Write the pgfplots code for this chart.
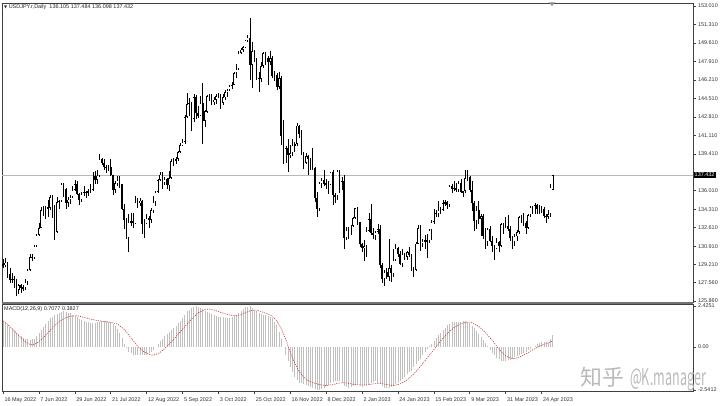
\documentclass[border=0pt]{standalone}
\usepackage{fontspec}
\setmainfont{Liberation Sans}
\newfontfamily\cjk{Noto Sans CJK SC}
\newfontfamily\cjknarrow[FakeStretch=0.55]{Noto Sans CJK SC}
\newfontfamily\dejavu{DejaVu Sans}
\usepackage{pgfplots}
\usepackage{pgfplotstable}
\pgfplotsset{compat=1.18}
\definecolor{sigred}{RGB}{200,60,60}

\pgfplotstableread{
i o h l c m
0 129.20 129.70 128.90 129.15 1.50
1 129.15 129.80 129.00 129.40 1.40
2 129.40 129.45 128.00 128.30 1.30
3 128.30 128.90 127.50 127.80 1.20
4 127.80 128.40 127.50 127.90 1.08
5 127.90 128.20 127.10 127.85 0.97
6 127.85 127.90 126.36 126.85 0.85
7 126.85 127.45 126.55 127.30 0.75
8 127.30 127.40 126.60 127.10 0.65
9 127.10 127.35 126.80 127.10 0.55
10 127.10 127.90 126.90 127.60 0.50
11 127.60 128.80 127.30 128.70 0.45
12 128.70 130.20 128.60 129.90 0.40
13 129.90 130.20 129.50 129.85 0.45
14 129.85 131.00 129.70 130.90 0.50
15 130.90 132.00 130.80 131.90 0.65
16 131.90 133.00 131.80 132.60 0.80
17 132.60 134.50 132.60 134.20 1.00
18 134.20 134.60 133.70 134.35 1.20
19 134.35 134.60 133.40 134.40 1.37
20 134.40 135.20 133.60 134.45 1.53
21 134.45 135.60 134.20 135.40 1.70
22 135.40 135.60 133.50 134.30 1.78
23 134.30 134.70 131.50 132.20 1.87
24 132.20 135.40 132.10 135.00 1.95
25 135.00 135.20 134.30 135.10 2.00
26 135.10 136.70 135.00 136.60 2.05
27 136.60 136.70 135.40 136.20 2.10
28 136.20 136.30 134.30 134.90 2.07
29 134.90 135.40 134.50 135.20 2.03
30 135.20 135.60 134.80 135.40 2.00
31 135.40 136.40 135.30 136.10 1.92
32 136.10 137.00 136.00 136.60 1.83
33 136.60 136.90 135.60 135.70 1.75
34 135.70 135.80 134.70 135.20 1.68
35 135.20 135.90 135.00 135.70 1.62
36 135.70 136.40 135.50 135.90 1.55
37 135.90 136.00 135.30 135.85 1.50
38 135.85 136.20 135.50 136.00 1.45
39 136.00 136.60 135.80 136.10 1.40
40 136.10 137.70 136.00 137.40 1.42
41 137.40 137.80 136.60 137.00 1.43
42 137.00 137.90 136.60 137.40 1.45
43 137.40 139.40 137.30 138.90 1.48
44 138.90 139.00 138.40 138.55 1.52
45 138.55 138.90 137.90 138.20 1.55
46 138.20 138.40 137.60 138.15 1.52
47 138.15 138.40 137.80 138.20 1.48
48 138.20 138.90 137.40 137.45 1.45
49 137.45 137.50 135.60 136.10 1.35
50 136.10 136.90 135.80 136.70 1.25
51 136.70 137.40 136.40 137.00 1.05
52 137.00 137.40 136.30 136.60 0.85
53 136.60 136.65 134.20 134.30 0.52
54 134.30 134.80 132.50 133.30 0.20
55 133.30 133.50 131.60 131.65 -0.05
56 131.65 133.90 130.40 133.15 -0.30
57 133.15 134.00 132.80 133.20 -0.38
58 133.20 134.00 132.60 133.00 -0.45
59 133.00 135.50 132.90 135.00 -0.48
60 135.00 135.30 134.40 134.90 -0.50
61 134.90 135.30 134.60 135.10 -0.50
62 135.10 135.20 132.00 132.90 -0.50
63 132.90 133.40 131.70 133.00 -0.48
64 133.00 133.90 132.90 133.50 -0.45
65 133.50 133.70 132.60 133.30 -0.38
66 133.30 134.40 133.00 134.20 -0.30
67 134.20 135.50 134.00 135.00 -0.15
68 135.00 136.00 134.60 135.90 0.00
69 135.90 137.05 135.80 137.00 0.18
70 137.00 137.70 136.90 137.50 0.35
71 137.50 137.70 136.20 136.80 0.50
72 136.80 137.30 136.50 137.10 0.65
73 137.10 137.20 136.20 136.50 0.78
74 136.50 137.80 136.00 137.20 0.90
75 137.20 138.90 137.10 138.70 1.00
76 138.70 139.00 138.30 138.80 1.10
77 138.80 139.10 138.50 138.95 1.25
78 138.95 139.70 138.70 139.60 1.40
79 139.60 140.40 139.50 140.20 1.55
80 140.20 140.80 140.10 140.50 1.70
81 140.50 143.00 140.30 142.80 1.90
82 142.80 144.99 142.70 144.00 2.10
83 144.00 144.50 142.90 144.10 2.20
84 144.10 144.20 141.50 142.60 2.30
85 142.60 144.90 142.30 144.60 2.35
86 144.60 144.80 142.60 143.20 2.40
87 143.20 143.80 142.70 142.90 2.35
88 142.90 144.70 142.90 144.10 2.30
89 144.10 145.90 140.35 142.40 2.22
90 142.40 143.40 141.90 143.30 2.15
91 143.30 144.80 143.20 144.70 2.08
92 144.70 144.90 144.30 144.80 2.00
93 144.80 144.90 143.90 144.20 1.95
94 144.20 144.60 143.90 144.40 1.90
95 144.40 144.90 144.00 144.70 1.85
96 144.70 145.00 144.50 144.80 1.80
97 144.80 144.90 143.50 144.10 1.78
98 144.10 144.90 143.90 144.60 1.75
99 144.60 145.30 144.40 145.10 1.72
100 145.10 145.40 144.60 145.30 1.70
101 145.30 145.70 145.20 145.65 1.72
102 145.65 146.00 145.40 145.75 1.75
103 145.75 146.90 145.70 146.85 1.82
104 146.85 147.70 146.40 147.20 1.90
105 147.20 148.90 147.10 148.70 2.02
106 148.70 149.10 148.60 149.00 2.15
107 149.00 149.30 148.80 149.20 2.25
108 149.20 149.90 149.10 149.85 2.35
109 149.85 150.30 149.70 150.10 2.38
110 150.10 151.94 146.20 147.60 2.40
111 147.60 149.70 145.50 148.90 2.30
112 148.90 149.00 147.90 148.00 2.20
113 148.00 148.20 146.20 146.40 2.10
114 146.40 146.90 145.10 146.30 2.00
115 146.30 147.90 146.00 147.50 1.95
116 147.50 148.80 147.30 148.70 1.90
117 148.70 148.80 147.60 148.20 1.88
118 148.20 148.40 145.70 147.90 1.85
119 147.90 148.90 147.60 148.20 1.78
120 148.20 148.40 146.40 146.60 1.70
121 146.60 147.00 146.10 146.65 1.50
122 146.65 146.80 145.30 145.60 1.30
123 145.60 146.90 145.40 146.40 0.90
124 146.40 146.60 140.20 141.00 0.50
125 141.00 142.50 138.50 138.80 0.00
126 138.80 140.10 138.60 139.90 -0.50
127 139.90 140.80 137.70 139.30 -0.85
128 139.30 140.20 139.00 139.50 -1.20
129 139.50 140.80 139.20 140.20 -1.50
130 140.20 140.50 139.60 140.30 -1.80
131 140.30 142.25 140.10 142.00 -1.95
132 142.00 142.10 140.90 141.20 -2.10
133 141.20 141.60 139.30 139.50 -2.15
134 139.50 139.60 138.00 138.60 -2.20
135 138.60 139.50 138.50 139.20 -2.25
136 139.20 139.30 137.50 138.90 -2.30
137 138.90 139.00 137.90 138.70 -2.35
138 138.70 139.90 137.90 138.10 -2.40
139 138.10 138.15 135.00 135.30 -2.47
140 135.30 135.90 133.60 134.30 -2.54
141 134.30 136.80 134.10 136.70 -2.52
142 136.70 137.20 136.30 137.00 -2.50
143 137.00 137.90 136.40 136.60 -2.40
144 136.60 137.10 136.20 136.65 -2.30
145 136.65 136.90 135.70 136.55 -2.22
146 136.55 137.75 136.50 137.70 -2.15
147 137.70 137.90 134.70 135.60 -2.08
148 135.60 135.80 134.90 135.50 -2.00
149 135.50 137.90 135.20 137.80 -2.00
150 137.80 137.90 135.80 136.70 -2.00
151 136.70 137.30 136.10 136.90 -2.15
152 136.90 137.50 130.60 131.70 -2.30
153 131.70 132.70 131.50 132.40 -2.35
154 132.40 132.70 131.60 132.35 -2.40
155 132.35 132.90 131.90 132.80 -2.35
156 132.80 133.60 132.70 133.50 -2.30
157 133.50 134.45 133.40 134.40 -2.25
158 134.40 134.50 132.90 133.10 -2.20
159 133.10 133.15 130.80 131.10 -2.28
160 131.10 131.20 130.40 130.70 -2.35
161 130.70 131.50 129.50 130.90 -2.32
162 130.90 132.70 129.90 132.30 -2.30
163 132.30 134.00 132.20 133.40 -2.20
164 133.40 134.80 131.90 132.10 -2.10
165 132.10 132.60 131.60 131.90 -2.05
166 131.90 132.30 131.50 132.20 -2.00
167 132.20 132.90 132.00 132.50 -2.10
168 132.50 132.90 128.90 129.20 -2.20
169 129.20 129.40 127.50 127.90 -2.33
170 127.90 128.70 127.20 128.50 -2.45
171 128.50 128.90 127.90 128.10 -2.42
172 128.10 131.60 127.70 128.90 -2.40
173 128.90 129.20 127.60 128.40 -2.35
174 128.40 130.60 128.10 129.60 -2.30
175 129.60 131.10 129.50 130.70 -2.20
176 130.70 130.80 129.90 130.20 -2.10
177 130.20 130.50 129.20 129.25 -2.00
178 129.25 130.60 129.00 130.20 -1.90
179 130.20 130.30 129.60 129.90 -1.75
180 129.90 130.50 129.60 130.40 -1.60
181 130.40 130.80 129.90 130.10 -1.50
182 130.10 130.20 128.60 128.90 -1.40
183 128.90 129.00 128.10 128.70 -1.20
184 128.70 131.25 128.60 131.15 -1.00
185 131.15 132.90 131.10 132.60 -0.85
186 132.60 132.90 130.50 131.10 -0.70
187 131.10 131.60 130.80 131.40 -0.50
188 131.40 131.90 130.60 131.45 -0.30
189 131.45 132.00 129.80 131.35 -0.12
190 131.35 132.50 131.20 132.40 0.05
191 132.40 133.30 131.50 133.10 0.20
192 133.10 134.30 132.90 134.00 0.35
193 134.00 134.20 133.60 133.90 0.52
194 133.90 135.10 133.60 134.20 0.70
195 134.20 134.50 133.90 134.25 0.85
196 134.25 135.20 134.10 134.90 1.00
197 134.90 135.20 134.60 134.95 1.15
198 134.95 135.10 134.30 134.70 1.30
199 134.70 136.55 134.50 136.45 1.38
200 136.45 136.60 135.80 136.20 1.45
201 136.20 136.90 136.00 136.25 1.48
202 136.25 136.70 135.90 136.10 1.50
203 136.10 136.90 135.90 136.70 1.50
204 136.70 137.10 135.80 135.90 1.50
205 135.90 136.00 135.40 135.95 1.52
206 135.95 137.90 135.80 137.20 1.55
207 137.20 137.90 136.90 137.30 1.48
208 137.30 137.35 135.90 136.10 1.40
209 136.10 136.90 134.10 134.90 1.25
210 134.90 135.10 132.30 133.20 1.10
211 133.20 134.60 132.50 134.20 0.92
212 134.20 135.10 132.90 133.40 0.75
213 133.40 133.85 131.80 133.70 0.58
214 133.70 133.90 131.60 131.80 0.40
215 131.80 132.60 130.60 131.30 0.22
216 131.30 132.60 130.90 132.50 0.05
217 132.50 132.80 131.30 131.40 -0.15
218 131.40 131.80 130.40 130.90 -0.35
219 130.90 131.00 129.60 130.70 -0.50
220 130.70 131.70 130.60 131.30 -0.65
221 131.30 131.40 130.40 130.90 -0.72
222 130.90 133.00 130.80 132.90 -0.80
223 132.90 133.00 132.00 132.70 -0.80
224 132.70 133.60 132.60 132.80 -0.80
225 132.80 133.80 132.30 132.50 -0.78
226 132.50 132.80 131.40 131.70 -0.75
227 131.70 131.80 130.60 131.30 -0.68
228 131.30 132.00 130.90 131.80 -0.60
229 131.80 132.40 131.40 132.20 -0.52
230 132.20 133.70 132.00 133.60 -0.45
231 133.60 133.80 133.00 133.70 -0.40
232 133.70 134.00 132.80 133.00 -0.35
233 133.00 133.20 132.00 132.60 -0.28
234 132.60 133.85 132.50 133.75 -0.20
235 133.75 134.60 133.60 134.50 -0.10
236 134.50 134.60 133.90 134.10 0.00
237 134.10 134.90 133.90 134.70 0.08
238 134.70 134.80 133.90 134.30 0.15
239 134.30 134.70 133.90 134.15 0.22
240 134.15 134.60 134.00 134.30 0.30
241 134.30 134.50 133.50 133.70 0.30
242 133.70 133.90 133.00 133.60 0.28
243 133.60 134.20 133.40 133.90 0.25
244 133.90 136.60 133.60 136.30 0.45
245 136.105 137.484 136.098 137.432 0.7077
}\ohlc

\pgfplotstableread{
i s
0 1.55
2 1.35
4 1.10
6 0.82
8 0.55
10 0.30
12 0.15
13 0.13
15 0.22
18 0.55
21 0.98
24 1.38
27 1.68
30 1.82
33 1.85
36 1.76
40 1.62
44 1.52
48 1.46
51 1.36
54 1.05
57 0.55
60 0.05
63 -0.30
66 -0.48
68 -0.45
70 -0.32
72 -0.10
75 0.30
78 0.75
81 1.20
84 1.65
87 2.02
90 2.22
92 2.24
94 2.18
97 2.05
100 1.92
103 1.85
106 1.90
109 2.08
111 2.18
113 2.18
115 2.10
118 1.95
120 1.82
122 1.55
124 1.10
126 0.45
128 -0.30
130 -0.95
132 -1.45
134 -1.78
136 -1.98
138 -2.10
141 -2.22
144 -2.28
147 -2.22
150 -2.12
153 -2.12
156 -2.20
159 -2.24
162 -2.24
165 -2.18
168 -2.14
171 -2.22
174 -2.28
177 -2.18
180 -1.95
183 -1.60
186 -1.15
189 -0.65
192 -0.15
195 0.35
198 0.80
201 1.15
204 1.38
207 1.48
209 1.45
212 1.22
215 0.85
218 0.40
220 0.05
222 -0.28
224 -0.52
226 -0.66
228 -0.68
230 -0.60
232 -0.48
234 -0.33
236 -0.17
238 -0.03
240 0.10
242 0.20
244 0.30
245 0.3827
}\sig

\begin{document}
\begin{tikzpicture}
\useasboundingbox (0,0) rectangle (720bp,406bp);

% ---------------- price panel ----------------
\begin{axis}[
  at={(2bp,104bp)}, anchor=south west, scale only axis,
  width=691bp, height=299bp,
  xmin=-0.446, xmax=307.5, ymin=125.767, ymax=153.286,
  axis line style={black!75, line width=0.8bp},
  xtick=\empty,
  ytick={125.86,127.56,129.21,130.91,132.61,134.31,136.01,137.71,139.41,141.11,142.81,144.51,146.21,147.91,149.61,151.31,153.01},
  yticklabels={125.860,127.560,129.210,130.910,132.610,134.310,136.010,{},139.410,141.110,142.810,144.510,146.210,147.910,149.610,151.310,153.010},
  ytick pos=right, yticklabel pos=right,
  tick align=outside, major tick length=3bp,
  tick style={black!75, line width=0.5bp},
  yticklabel style={font=\fontsize{5.5}{6}\selectfont, text=black!80, xshift=-1.5bp},
]
\addplot[black!28, line width=0.5bp, forget plot] coordinates {(-1,137.432) (310,137.432)};
% wicks
\addplot[draw=none, mark=none, forget plot,
  error bars/.cd, y dir=both, y explicit, error mark=none,
  error bar style={solid, draw=black, line width=0.45bp}]
  table[x=i, y expr={(\thisrow{h}+\thisrow{l})/2}, y error expr={(\thisrow{h}-\thisrow{l})/2}] {\ohlc};
% bodies
\addplot[draw=none, mark=none, forget plot,
  error bars/.cd, y dir=both, y explicit, error mark=none,
  error bar style={solid, draw=black, line width=1.6bp}]
  table[x=i, y expr={(\thisrow{o}+\thisrow{c})/2}, y error expr={max(abs(\thisrow{c}-\thisrow{o})/2,0.05)}] {\ohlc};
% bull interiors
\addplot[draw=none, mark=none, forget plot,
  error bars/.cd, y dir=both, y explicit, error mark=none,
  error bar style={solid, draw=white, line width=0.7bp}]
  table[x=i, y expr={(\thisrow{o}+\thisrow{c})/2}, y error expr={max((\thisrow{c}-\thisrow{o})/2-0.08,0)}] {\ohlc};
\end{axis}

% ---------------- MACD panel ----------------
\begin{axis}[
  at={(2bp,15bp)}, anchor=south west, scale only axis,
  width=691bp, height=87bp,
  xmin=-0.446, xmax=307.5, ymin=-2.600, ymax=2.543,
  axis line style={black!75, line width=0.8bp},
  xtick={0,16,...,240},
  xticklabels={16 May 2022,7 Jun 2022,29 Jun 2022,21 Jul 2022,12 Aug 2022,5 Sep 2022,3 Oct 2022,25 Oct 2022,16 Nov 2022,8 Dec 2022,2 Jan 2023,24 Jan 2023,15 Feb 2023,9 Mar 2023,31 Mar 2023,24 Apr 2023},
  xtick pos=left, ytick pos=right, yticklabel pos=right,
  xticklabel style={anchor=north west, font=\fontsize{5.5}{6}\selectfont, text=black!80, xshift=-2bp, yshift=-0.5bp},
  ytick={-2.5412,0,2.4251},
  yticklabels={-2.5412,0.00,2.4251},
  tick align=outside, major tick length=3bp,
  tick style={black!75, line width=0.5bp},
  yticklabel style={font=\fontsize{5.5}{6}\selectfont, text=black!80, xshift=-1.5bp},
]
\addplot[ycomb, mark=none, black!25, line width=0.55bp] table[x=i, y=m] {\ohlc};
\addplot[sigred, line width=0.6bp, dash pattern=on 1.2bp off 1.1bp, mark=none] table[x=i, y=s] {\sig};
\end{axis}

% separator between panels
\fill[black!55] (2bp,102.3bp) rectangle (693bp,104bp);

% texts
\node[anchor=west, inner sep=0pt, font=\fontsize{5.5}{6}\selectfont, text=black!85] at (4bp,399bp)
  {{\dejavu\fontsize{4}{5}\selectfont ▼}\ USDJPY.r,Daily\ \ 136.105 137.484 136.098 137.432};
\node[anchor=west, inner sep=0pt, font=\fontsize{5.5}{6}\selectfont, text=black!85] at (4bp,97bp)
  {MACD(12,26,9) 0.7077 0.3827};
\node[anchor=west, fill=black, text=white, inner xsep=1bp, inner ysep=1bp, font=\fontsize{5.5}{6}\selectfont] at (693.5bp,231bp) {137.432};
\fill[black!45] (549bp,403.5bp) -- (555bp,403.5bp) -- (552bp,400bp) -- cycle;

% watermark
\node[anchor=base west, inner sep=0pt, text=black!27] at (580bp,21bp)
  {\cjk\fontsize{22}{22}\selectfont 知乎\hspace{6bp}\cjknarrow\fontsize{23}{23}\selectfont @K.manager};
\end{tikzpicture}
\end{document}
